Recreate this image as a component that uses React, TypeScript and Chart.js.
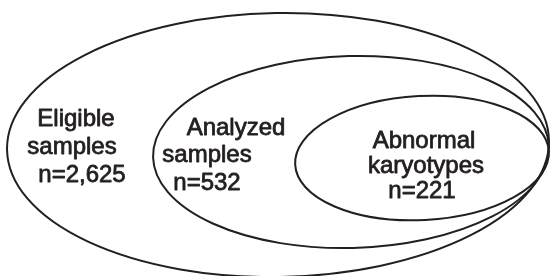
import React, { useEffect, useRef } from "react";
import { Chart, registerables } from "chart.js";

Chart.register(...registerables);

// Sets (nested, Euler diagram)
const setNames = ["Eligible samples", "Analyzed samples", "Abnormal karyotypes"];
const setCounts = [2625, 532, 221];
const labelLines = [
  ["Eligible", "samples", "n=2,625"],
  ["Analyzed", "samples", "n=532"],
  ["Abnormal", "karyotypes", "n=221"],
];

// Ellipse geometry in axis units
const ellipseCx = [278, 351, 422];
const ellipseCy = [145, 152, 158];
const ellipseRx = [271, 198, 127];
const ellipseRy = [132, 96, 62];
const ellipseTiltDeg = [-1, -1.5, -3];

// label anchors (line centres), axis units
const labelX = [[76, 72, 82], [236, 207, 207], [424, 426, 422]];
const labelY = [[119, 147, 175], [128, 155, 183], [141, 166, 191]];

const INK = "#231f20";

const eulerPlugin = {
  id: "euler",
  afterDatasetsDraw(chart: any) {
    const { ctx, scales } = chart;
    const xs = scales.x;
    const ys = scales.y;
    ctx.save();
    chart.data.datasets.forEach((ds: any) => {
      const p = ds.data[0];
      const px = xs.getPixelForValue(p.x);
      const py = ys.getPixelForValue(p.y);
      const rx = Math.abs(xs.getPixelForValue(p.x + ds.rx) - px);
      const ry = Math.abs(ys.getPixelForValue(p.y + ds.ry) - py);
      ctx.beginPath();
      ctx.ellipse(px, py, rx, ry, (ds.tilt * Math.PI) / 180, 0, Math.PI * 2);
      ctx.lineWidth = 2;
      ctx.strokeStyle = INK;
      ctx.stroke();
    });
    ctx.fillStyle = INK;
    ctx.strokeStyle = INK;
    ctx.lineWidth = 0.8;
    ctx.lineJoin = "round";
    ctx.font = '24px "Liberation Sans", Arial, sans-serif';
    ctx.textAlign = "center";
    ctx.textBaseline = "middle";
    labelLines.forEach((lines, i) => {
      lines.forEach((t, j) => {
        const x = xs.getPixelForValue(labelX[i][j]);
        const y = ys.getPixelForValue(labelY[i][j]);
        ctx.fillText(t, x, y);
        ctx.strokeText(t, x, y);
      });
    });
    ctx.restore();
  },
};

export default function App() {
  const ref = useRef<HTMLCanvasElement>(null);
  useEffect(() => {
    document.body.style.margin = "0";
    const chart = new Chart(ref.current as HTMLCanvasElement, {
      type: "scatter",
      data: {
        datasets: setNames.map((name, i) => ({
          label: name,
          data: [{ x: ellipseCx[i], y: ellipseCy[i], n: setCounts[i] }],
          rx: ellipseRx[i],
          ry: ellipseRy[i],
          tilt: ellipseTiltDeg[i],
          pointRadius: 0,
        })) as any,
      },
      options: {
        animation: false,
        responsive: false,
        maintainAspectRatio: false,
        layout: { padding: 0 },
        plugins: { legend: { display: false }, tooltip: { enabled: false } },
        scales: {
          x: { type: "linear", min: 0, max: 551, display: false },
          y: { type: "linear", min: 0, max: 276, reverse: true, display: false },
        },
      },
      plugins: [eulerPlugin],
    });
    return () => chart.destroy();
  }, []);
  return (
    <div style={{ width: 551, height: 276, background: "#fff" }}>
      <canvas ref={ref} width={551} height={276} />
    </div>
  );
}
